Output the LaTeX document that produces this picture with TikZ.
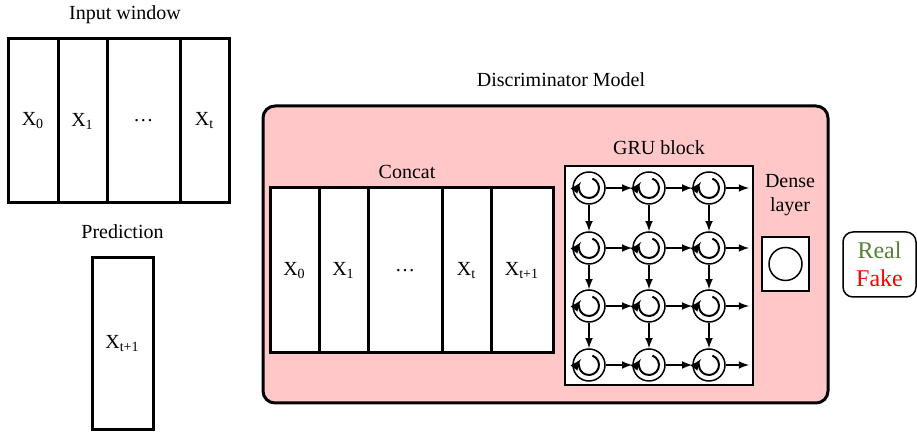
\documentclass[tikz,border=0pt]{standalone}
\usepackage{fontspec}
\setmainfont{Liberation Serif}
\usetikzlibrary{arrows}
\definecolor{discpink}{RGB}{255,199,199}
\definecolor{realgreen}{RGB}{84,130,53}
\definecolor{fakered}{RGB}{255,0,0}

\begin{document}
\begin{tikzpicture}[x=0.5pt,y=0.5pt,>=latex,
  seq cell/.style={draw,line width=1.5pt,fill=white,inner sep=0pt},
  title/.style={inner sep=0pt},
  gru unit/.style={circle,draw,line width=0.75pt,fill=white,minimum size=16pt,inner sep=0pt},
  link/.style={->,line width=0.75pt},
  loop/.style={->,line width=1pt}]
\useasboundingbox (0,0) rectangle (917,432);

  % input window
  \node[title] (in title) at (125,417) {Input window};
  \foreach \x/\w/\n/\lbl in {
    {33/25pt/0/X\textsubscript{0}},
    {82.5/24.5pt/1/X\textsubscript{1}},
    {143.5/36.5pt/2/\dots},
    {204.5/24.5pt/3/X\textsubscript{t}}}
  \node[seq cell,minimum width=\w,minimum height=82pt] (in-\n) at (\x,311) {\lbl};

  % prediction
  \node[title] (pred title) at (122.5,200) {Prediction};
  \node[seq cell,minimum width=30.5pt,minimum height=86pt] (pred) at (122.5,88) {X\textsubscript{t+1}};

  % discriminator
  \node[title] (disc title) at (561,352) {Discriminator Model};
  \node[draw,line width=1.5pt,rounded corners=6pt,fill=discpink,minimum width=282.5pt,minimum height=148.5pt] (disc) at (545.5,177.5) {};

  \node[title] (cat title) at (407,260) {Concat};
  \foreach \x/\w/\n/\lbl in {
    {294.5/24.5pt/0/X\textsubscript{0}},
    {343.5/24.5pt/1/X\textsubscript{1}},
    {405/37pt/2/\dots},
    {466.5/24.5pt/3/X\textsubscript{t}},
    {522/31pt/4/X\textsubscript{t+1}}}
  \node[seq cell,minimum width=\w,minimum height=82.5pt] (cat-\n) at (\x,161.5) {\lbl};

  % GRU block
  \node[title] (gru title) at (659,284) {GRU block};
  \node[draw,line width=0.75pt,fill=white,minimum width=94pt,minimum height=109.5pt] (gru) at (659,156.5) {};
  \foreach \r/\y in {1/244,2/184,3/126,4/67} {
    \foreach \c/\x in {1/589,2/649,3/709} {
      \node[gru unit] (g-\r-\c) at (\x,\y) {};
      \draw[loop] ([shift={(70:5pt)}]g-\r-\c.center) arc[start angle=70,end angle=-218,radius=5pt];
    }
    \coordinate (out-\r) at (749,\y);
    \draw[link] (g-\r-1) -- (g-\r-2);
    \draw[link] (g-\r-2) -- (g-\r-3);
    \draw[link] (g-\r-3) -- (out-\r);
  }
  \foreach \r/\s in {1/2,2/3,3/4}
    \foreach \c in {1,2,3}
      \draw[link] (g-\r-\c) -- (g-\s-\c);

  % dense layer
  \node[title,align=center,font=\fontsize{10}{12}\selectfont] (dense title) at (790,237) {Dense\\layer};
  \node[draw,line width=0.75pt,fill=white,minimum width=23.5pt,minimum height=27pt] (dense) at (785.5,168) {};
  \node[circle,draw,line width=0.75pt,minimum size=16.5pt,inner sep=0pt] (dense unit) at (dense.center) {};

  % output
  \node[draw,line width=0.75pt,rounded corners=5pt,minimum width=36.5pt,minimum height=32.5pt,
    align=center,inner sep=0pt,font=\fontsize{12}{14}\selectfont] (out) at (879.5,167.5)
    {\textcolor{realgreen}{Real}\\\textcolor{fakered}{Fake}};
\end{tikzpicture}
\end{document}
